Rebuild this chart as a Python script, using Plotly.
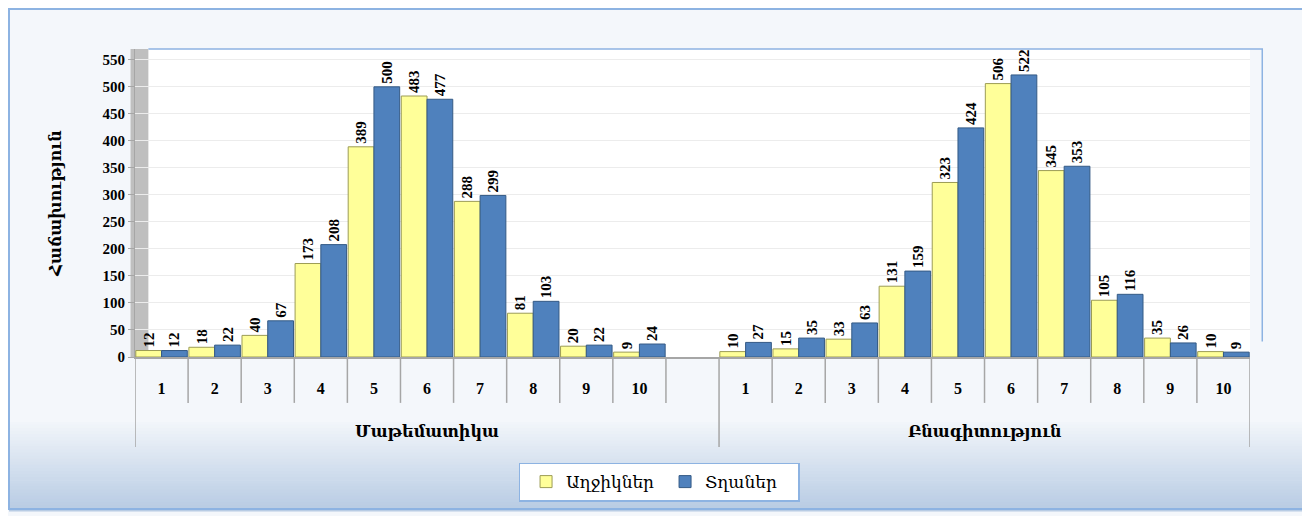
import plotly.graph_objects as go

# Dados
GRUPOS = ["Մաթեմատիկա", "Բնագիտություն"]
NOTAS = ["1", "2", "3", "4", "5", "6", "7", "8", "9", "10"]
MAT_AGHJIK = [12, 18, 40, 173, 389, 483, 288, 81, 20, 9]
MAT_TGHA = [12, 22, 67, 208, 500, 477, 299, 103, 22, 24]
BNAG_AGHJIK = [10, 15, 33, 131, 323, 506, 345, 105, 35, 10]
BNAG_TGHA = [27, 35, 63, 159, 424, 522, 353, 116, 26, 9]
SERIES = ["Աղջիկներ", "Տղաներ"]
Y_TITULO = "Հաճախություն"
Y_TICKS = list(range(0, 551, 50))

FONTE = "Liberation Serif, DejaVu Serif, serif"
AMARELO = "#FFFF99"
AZUL = "#4F81BD"
CINZA = "#a6a6a6"

# categorias únicas: o primeiro grupo tem uma casa vazia no fim
cats, rotulos = [], []
for g, grupo in enumerate(GRUPOS):
    for n in NOTAS:
        cats.append(f"{grupo}|{n}")
        rotulos.append(n)
    if g == 0:
        cats.append(f"{grupo}|vazio")
        rotulos.append("")
vals_aghjik = MAT_AGHJIK + [None] + BNAG_AGHJIK
vals_tgha = MAT_TGHA + [None] + BNAG_TGHA

fig = go.Figure()
for nome, vals, cor, borda in [
    (SERIES[0], vals_aghjik, AMARELO, "#9c9c55"),
    (SERIES[1], vals_tgha, AZUL, "#345a85"),
]:
    fig.add_trace(
        go.Bar(
            x=cats,
            y=vals,
            name=nome,
            marker=dict(color=cor, line=dict(color=borda, width=1)),
            text=[("" if v is None else str(v)) for v in vals],
            textposition="outside",
            textangle=-90,
            textfont=dict(family=FONTE, size=15, color="black", weight="bold"),
            cliponaxis=False,
        )
    )

# fundo em degradê na parte de baixo (faixas)
X0, X1 = -0.113, 1.0493
faixas = 30
topo, base = -0.2, -0.5
passo = (topo - base) / faixas
for i in range(faixas):
    t = i / (faixas - 1)
    r = int(244 + (184 - 244) * t)
    g = int(247 + (204 - 247) * t)
    b = int(251 + (228 - 251) * t)
    y1 = topo - i * passo
    fig.add_shape(
        type="rect", xref="paper", yref="paper",
        x0=X0, x1=X1, y0=y1 - passo - 0.002, y1=y1,
        fillcolor=f"rgb({r},{g},{b})", line_width=0, layer="below",
    )

# moldura externa
fig.add_shape(
    type="rect", xref="paper", yref="paper",
    x0=X0, x1=X1, y0=-0.4935, y1=1.1299,
    line=dict(color="#8db3e2", width=2), fillcolor="rgba(0,0,0,0)",
)
# parede lateral cinza (efeito 3D)
fig.add_shape(
    type="rect", xref="paper", yref="paper",
    x0=-0.004, x1=0.012, y0=0.0, y1=1.0,
    fillcolor="#bfbfbf", line_width=0, layer="below",
)
# borda superior/direita da área do gráfico
fig.add_shape(
    type="path", xref="paper", yref="paper",
    path="M 0.012 1 L 1.011 1 L 1.011 0.05",
    line=dict(color="#8db3e2", width=1.5),
)

# separadores das categorias (curtos) e dos grupos (longos)
n_cats = len(cats)
for i in range(n_cats + 1):
    pos = i - 0.5
    longo = i == 0 or i == n_cats or cats[i - 1].endswith("vazio")
    fig.add_shape(
        type="line", xref="x", yref="paper",
        x0=pos, x1=pos, y0=0, y1=-0.292 if longo else -0.149,
        line=dict(color=CINZA, width=1.5),
    )

# rótulos dos grupos
for grupo in GRUPOS:
    idx = [i for i, c in enumerate(cats) if c.startswith(grupo + "|")]
    fig.add_annotation(
        x=(idx[0] + idx[-1]) / 2, xref="x",
        y=-0.2435, yref="paper",
        text=grupo, showarrow=False,
        font=dict(family=FONTE, size=16, color="black", weight="bold"),
        yanchor="middle",
    )

fig.update_layout(
    width=1310,
    height=516,
    margin=dict(l=127, r=68, t=41, b=167),
    paper_bgcolor="#f4f7fb",
    plot_bgcolor="white",
    barmode="group",
    bargap=0.03,
    bargroupgap=0.0,
    font=dict(family=FONTE, color="black"),
    showlegend=True,
    legend=dict(
        orientation="h",
        x=0.470, xanchor="center",
        y=-0.406, yanchor="middle",
        bgcolor="white",
        bordercolor="#8db3e2",
        borderwidth=1.5,
        font=dict(family=FONTE, size=17, color="black"),
        entrywidth=88,
        indentation=6,
    ),
    yaxis=dict(
        range=[0, 570],
        tickvals=Y_TICKS,
        ticks="outside",
        ticklen=6,
        tickcolor=CINZA,
        tickfont=dict(family=FONTE, size=15, weight="bold"),
        showgrid=True,
        gridcolor="#ececec",
        zeroline=False,
        showline=True,
        linecolor=CINZA,
        title=dict(
            text=Y_TITULO,
            font=dict(family=FONTE, size=16, weight="bold"),
            standoff=36,
        ),
    ),
    xaxis=dict(
        type="category",
        categoryorder="array",
        categoryarray=cats,
        range=[-0.5, n_cats - 0.5],
        tickvals=cats,
        ticktext=rotulos,
        tickfont=dict(family=FONTE, size=16, weight="bold"),
        ticks="",
        ticklabelstandoff=16,
        showline=True,
        linecolor=CINZA,
        linewidth=2,
        showgrid=False,
    ),
)

fig.write_html("out.html")
